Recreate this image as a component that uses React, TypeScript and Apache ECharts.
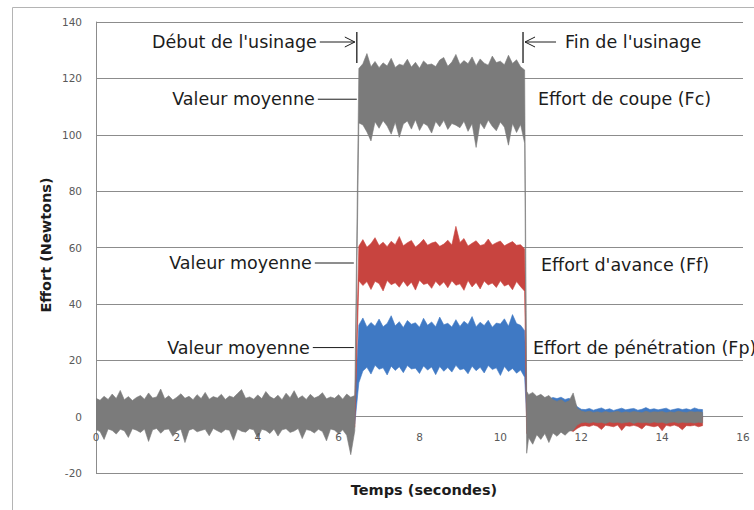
import React, { useEffect, useRef } from "react";
import * as echarts from "echarts";

// ---- time grids (seconds) ----
const tPre = [
  0, 0.1, 0.2, 0.3, 0.4, 0.5, 0.6, 0.7, 0.8, 0.9,
  1, 1.1, 1.2, 1.3, 1.4, 1.5, 1.6, 1.7, 1.8, 1.9,
  2, 2.1, 2.2, 2.3, 2.4, 2.5, 2.6, 2.7, 2.8, 2.9,
  3, 3.1, 3.2, 3.3, 3.4, 3.5, 3.6, 3.7, 3.8, 3.9,
  4, 4.1, 4.2, 4.3, 4.4, 4.5, 4.6, 4.7, 4.8, 4.9,
  5, 5.1, 5.2, 5.3, 5.4, 5.5, 5.6, 5.7, 5.8, 5.9,
  6, 6.1, 6.2, 6.3, 6.4,
];
const tPreCoarse = [0, 0.8, 1.6, 2.4, 3.2, 4.0, 4.8, 5.6, 6.4];
const tCut = [
  6.5, 6.6, 6.7, 6.8, 6.9,
  7, 7.1, 7.2, 7.3, 7.4, 7.5, 7.6, 7.7, 7.8, 7.9,
  8, 8.1, 8.2, 8.3, 8.4, 8.5, 8.6, 8.7, 8.8, 8.9,
  9, 9.1, 9.2, 9.3, 9.4, 9.5, 9.6, 9.7, 9.8, 9.9,
  10, 10.1, 10.2, 10.3, 10.4, 10.5, 10.6,
];
const tPost = [
  10.65, 10.7, 10.8, 10.9,
  11, 11.1, 11.2, 11.3, 11.4, 11.5, 11.6, 11.7, 11.8, 11.9,
  12, 12.1, 12.2, 12.3, 12.4, 12.5, 12.6, 12.7, 12.8, 12.9,
  13, 13.1, 13.2, 13.3, 13.4, 13.5, 13.6, 13.7, 13.8, 13.9,
  14, 14.1, 14.2, 14.3, 14.4, 14.5, 14.6, 14.7, 14.8, 14.9,
  15,
];

// ---- Effort de coupe (Fc), gray: envelope (low / high) of the noisy signal ----
const fcPreHigh = [
  6.5, 5.8, 7.2, 6.1, 8.0, 6.4, 9.3, 6.0, 7.1, 5.7,
  6.8, 7.5, 6.2, 8.4, 6.6, 7.0, 9.8, 6.3, 7.4, 5.9,
  6.9, 8.1, 6.5, 7.2, 6.0, 7.8, 6.4, 8.6, 6.2, 7.1,
  6.6, 7.9, 6.1, 7.3, 6.8, 8.2, 9.6, 6.5, 7.0, 6.2,
  7.7, 6.4, 8.9, 7.1, 6.3, 7.6, 6.0, 8.3, 6.7, 9.2,
  6.4, 7.4, 6.1, 7.9, 6.6, 7.2, 8.5, 6.3, 7.0, 6.5,
  7.8, 6.2, 8.0, 6.9, 7.5,
];
const fcPreLow = [
  -4.6, -5.3, -8.1, -4.4, -4.9, -6.2, -4.5, -5.0, -7.4, -4.3,
  -4.8, -5.6, -4.4, -8.8, -4.7, -4.2, -5.9, -4.6, -4.4, -7.0,
  -5.1, -4.5, -9.2, -4.8, -4.3, -5.4, -4.9, -4.5, -6.8, -4.2,
  -5.0, -5.7, -4.6, -4.8, -8.4, -4.4, -5.2, -5.5, -4.3, -4.7,
  -7.6, -4.5, -4.9, -6.0, -4.4, -6.9, -4.7, -4.3, -5.6, -5.1,
  -4.2, -7.8, -4.6, -4.9, -5.8, -4.5, -5.3, -8.6, -4.4, -4.8,
  -6.1, -4.7, -6.6, -13.5, -5.0,
];
const fcCutHigh = [
  123.5, 125.2, 128.8, 124.1, 126.0, 123.8, 125.5, 124.4, 127.1, 123.9,
  125.0, 124.6, 126.8, 124.0, 125.7, 123.6, 126.2, 124.8, 125.1, 124.2,
  126.5, 127.4, 124.3, 125.8, 128.5, 124.9, 126.3, 125.2, 127.6, 124.5,
  126.9, 125.4, 124.7, 127.9, 125.6, 126.1, 124.8, 128.2, 125.3, 126.6,
  124.1, 123.0,
];
const fcCutLow = [
  104.2, 103.5, 101.0, 97.8, 104.6, 102.3, 105.0, 103.1, 100.2, 104.4,
  99.1, 103.8, 104.9, 102.0, 105.3, 101.5, 104.1, 103.2, 100.6, 104.7,
  102.8, 105.1, 101.9, 104.0, 103.4, 102.5, 104.8, 101.2, 103.9, 95.5,
  104.3, 102.1, 105.2, 103.0, 101.4, 104.5, 102.7, 96.3, 104.0, 100.8,
  103.6, 97.0,
];
const fcPostHigh = [
  9.0, 7.8, 8.6, 7.2, 7.9, 6.8, 7.5, 6.0, 5.4, 6.1, 5.0, 5.6, 8.4, 3.0, 2.0,
  1.6, 1.9, 1.5, 1.7, 1.4, 1.8, 1.5, 1.6, 1.9, 1.4,
  1.7, 1.5, 1.8, 1.6, 1.4, 1.9, 1.5, 1.7, 1.6, 1.8,
  1.4, 1.7, 1.5, 1.9, 1.6, 1.5, 1.8, 1.6, 1.7, 1.5,
];
const fcPostLow = [
  -13.0, -7.5, -9.8, -6.4, -8.1, -6.0, -9.2, -5.8, -7.0, -5.5, -6.6, -5.2, -4.8, -3.0, -2.2,
  -2.0, -2.3, -1.9, -2.2, -2.1, -2.4, -1.9, -2.2, -2.0, -2.3,
  -2.1, -1.9, -2.4, -2.0, -2.2, -2.1, -2.3, -1.9, -2.2, -2.0,
  -2.4, -2.1, -1.9, -2.3, -2.0, -2.2, -2.1, -2.3, -2.0, -2.2,
];

// ---- Effort d'avance (Ff), red ----
const ffPreHigh = [1.8, 2.2, 1.9, 2.4, 2.0, 2.3, 1.7, 2.1, 2.0];
const ffPreLow = [-3.6, -4.0, -3.8, -4.1, -3.7, -4.0, -3.9, -4.1, -3.8];
const ffCutHigh = [
  60.5, 62.8, 60.1, 61.4, 63.5, 60.7, 61.9, 60.3, 62.2, 61.0,
  63.9, 60.6, 61.7, 62.5, 60.2, 61.3, 62.9, 60.8, 61.6, 62.0,
  60.4, 61.2, 62.6, 60.9, 67.5, 61.8, 63.2, 60.5, 61.5, 62.4,
  60.7, 61.1, 63.0, 60.9, 61.7, 62.3, 60.6, 61.4, 62.1, 60.8,
  61.0, 59.5,
];
const ffCutLow = [
  48.2, 46.5, 47.9, 45.1, 48.0, 47.2, 44.6, 48.3, 46.8, 47.5,
  45.9, 48.1, 46.2, 47.7, 44.9, 48.4, 46.9, 47.3, 45.5, 48.0,
  46.4, 47.8, 45.7, 48.2, 46.6, 47.1, 44.8, 48.3, 46.0, 47.6,
  45.3, 48.1, 46.7, 47.4, 45.8, 48.2, 46.3, 47.0, 45.0, 47.9,
  46.1, 44.5,
];
const ffPostHigh = [
  2.0, 0.8, 1.2, 0.6, 1.0, 0.7, 1.1, 0.5, 0.9, 0.6, 1.0, 0.4, 0.8, 0.3, 0.2,
  0.1, -0.2, 0.3, 0.0, -0.1, 0.2, -0.3, 0.1, 0.0, 0.3,
  -0.2, 0.1, 0.2, -0.1, 0.0, 0.3, -0.2, 0.1, -0.1, 0.2,
  0.0, -0.3, 0.1, 0.2, -0.1, 0.0, 0.3, -0.2, 0.1, 0.0,
];
const ffPostLow = [
  -6.0, -5.2, -6.5, -4.9, -5.8, -5.1, -6.2, -4.8, -5.5, -5.0, -5.9, -4.7, -5.3, -4.2, -3.4,
  -3.2, -3.5, -3.0, -3.4, -4.6, -3.1, -3.3, -3.6, -3.0, -4.9,
  -3.2, -3.4, -3.1, -3.5, -4.4, -3.0, -3.3, -3.6, -3.2, -5.0,
  -3.1, -3.4, -3.0, -3.5, -4.7, -3.2, -3.3, -3.1, -3.6, -3.2,
];

// ---- Effort de pénétration (Fp), blue ----
const fpPreHigh = [4.2, 4.8, 4.5, 5.0, 4.6, 4.9, 4.4, 4.7, 5.0];
const fpPreLow = [-2.4, -2.9, -2.6, -3.0, -2.5, -2.8, -2.7, -2.9, -2.6];
const fpCutHigh = [
  32.5, 35.0, 31.8, 33.4, 32.1, 34.6, 31.9, 33.0, 35.8, 32.2,
  33.7, 31.6, 34.1, 32.8, 33.3, 31.7, 34.9, 32.4, 33.6, 31.9,
  35.3, 32.6, 33.1, 31.8, 34.4, 32.0, 33.8, 32.7, 35.5, 31.9,
  33.5, 32.3, 34.2, 31.7, 33.2, 32.9, 34.7, 32.1, 36.2, 33.0,
  32.4, 30.5,
];
const fpCutLow = [
  12.0, 16.2, 17.5, 15.1, 18.2, 16.8, 17.3, 14.8, 17.9, 16.4,
  17.7, 15.6, 18.1, 16.9, 17.2, 15.3, 18.0, 16.5, 17.6, 14.9,
  17.8, 16.1, 17.4, 15.8, 18.2, 16.6, 17.0, 15.2, 17.9, 16.3,
  17.5, 15.5, 18.1, 16.7, 17.3, 14.6, 17.8, 16.0, 17.1, 15.4,
  16.5, 14.0,
];
const fpPostHigh = [
  8.0, 6.5, 6.0, 6.3, 5.8, 6.6, 6.2, 6.8, 6.4, 6.9, 6.1, 6.5, 5.2, 3.5, 2.6,
  2.5, 2.9, 2.3, 2.7, 3.1, 2.4, 2.8, 2.2, 2.6, 3.0,
  2.4, 2.7, 2.9, 2.3, 2.6, 3.2, 2.5, 2.8, 2.4, 2.7,
  3.0, 2.3, 2.6, 2.9, 2.5, 2.8, 2.4, 3.1, 2.6, 2.5,
];
const fpPostLow = [
  0.0, -1.0, -0.6, -1.2, -0.8, -1.1, -0.5, -0.9, -1.3, -0.7, -1.0, -0.6, -0.8, -0.5, -0.4,
  -0.6, -0.3, -0.8, -0.5, -0.7, -0.4, -0.9, -0.6, -0.3, -0.7,
  -0.5, -0.8, -0.4, -0.6, -0.9, -0.5, -0.3, -0.7, -0.6, -0.4,
  -0.8, -0.5, -0.7, -0.3, -0.6, -0.9, -0.4, -0.5, -0.7, -0.6,
];

// ---- annotations ----
const startTime = 6.45; // Début de l'usinage
const endTime = 10.56; // Fin de l'usinage
const meanFc = 112.6;
const meanFf = 54.5;
const meanFp = 24.5;
const labelFc = "Effort de coupe (Fc)";
const labelFf = "Effort d'avance (Ff)";
const labelFp = "Effort de pénétration (Fp)";
const meanLabel = "Valeur moyenne";
const startLabel = "Début de l'usinage";
const endLabel = "Fin de l'usinage";
const yTitle = "Effort (Newtons)";
const xTitle = "Temps (secondes)";

const GRAY = "#7b7b7b";
const RED = "#c8443f";
const BLUE = "#3f79c4";
const GRID = "#8c8c8c";
const FONT = "DejaVu Sans";

type Phase = [number[], number[], number[]];
function envelope(phases: Phase[]): number[][] {
  const pts: number[][] = [];
  phases.forEach(([ts, lo, hi]) => {
    ts.forEach((t, i) => pts.push([t, lo[i], hi[i]]));
  });
  return pts;
}

function band(name: string, color: string, pts: number[][], z: number) {
  return {
    type: "custom",
    name,
    z,
    clip: true,
    data: pts,
    encode: { x: 0, y: [1, 2] },
    renderItem: (params: any, api: any) => {
      if (params.dataIndex !== 0) return null;
      const upper = pts.map((p) => api.coord([p[0], p[2]]));
      const lower = pts.map((p) => api.coord([p[0], p[1]])).reverse();
      return {
        type: "polygon",
        shape: { points: upper.concat(lower) },
        style: { fill: color, stroke: color, lineWidth: 0.6 },
      };
    },
  };
}

export default function App() {
  const ref = useRef<HTMLDivElement>(null);
  useEffect(() => {
    const chart = echarts.init(ref.current!, null, { renderer: "svg" });
    const fc = envelope([
      [tPre, fcPreLow, fcPreHigh],
      [tCut, fcCutLow, fcCutHigh],
      [tPost, fcPostLow, fcPostHigh],
    ]);
    const ff = envelope([
      [tPreCoarse, ffPreLow, ffPreHigh],
      [tCut, ffCutLow, ffCutHigh],
      [tPost, ffPostLow, ffPostHigh],
    ]);
    const fp = envelope([
      [tPreCoarse, fpPreLow, fpPreHigh],
      [tCut, fpCutLow, fpCutHigh],
      [tPost, fpPostLow, fpPostHigh],
    ]);

    chart.setOption({
      animation: false,
      backgroundColor: "#ffffff",
      grid: { left: 96, right: 11, top: 22, bottom: 37 },
      xAxis: {
        type: "value",
        min: 0,
        max: 16,
        interval: 2,
        z: 10,
        zlevel: 1,
        axisLine: { show: false },
        axisTick: { show: false },
        splitLine: { show: false },
        axisLabel: { color: "#595959", fontSize: 10.5, fontFamily: FONT, margin: 15 },
      },
      yAxis: {
        type: "value",
        min: -20,
        max: 140,
        interval: 20,
        axisLine: { show: true, lineStyle: { color: GRID, width: 1 } },
        axisTick: { show: false },
        splitLine: { show: true, lineStyle: { color: GRID, width: 1 } },
        axisLabel: { color: "#595959", fontSize: 10.5, fontFamily: FONT, margin: 14 },
      },
      series: [band("Fp", BLUE, fp, 2), band("Ff", RED, ff, 3), band("Fc", GRAY, fc, 4)],
    });

    const px = (t: number, v: number) =>
      chart.convertToPixel({ gridIndex: 0 }, [t, v]) as unknown as number[];

    // Excel-style: the time axis crosses the force axis at 0
    const yZero = px(0, 0)[1];
    const yBottom = px(0, -20)[1];
    chart.setOption({ xAxis: { offset: -(yBottom - yZero) } });

    const sx = px(startTime, 0)[0];
    const ex = px(endTime, 0)[0];
    const yFc = px(0, meanFc)[1];
    const yFf = px(0, meanFf)[1];
    const yFp = px(0, meanFp)[1];
    const INK = "#1c1c1c";
    const FS = 17.5;
    const txt = (text: string, x: number, y: number, align: string) => ({
      type: "text",
      x,
      y,
      z: 20,
      style: {
        text,
        fill: INK,
        fontSize: FS,
        fontFamily: FONT,
        align,
        verticalAlign: "middle",
      },
    });
    const ln = (x1: number, y1: number, x2: number, y2: number, w = 1) => ({
      type: "line",
      z: 20,
      shape: { x1, y1, x2, y2 },
      style: { stroke: INK, lineWidth: w },
    });
    const pl = (points: number[][]) => ({
      type: "polyline",
      z: 20,
      shape: { points },
      style: { stroke: INK, lineWidth: 1, fill: "none" },
    });
    const ty = 42;

    chart.setOption({
      graphic: [
        {
          type: "rect",
          z: 0,
          silent: true,
          shape: { x: 12.5, y: 7.5, width: 800, height: 560 },
          style: { fill: "none", stroke: "#b4b4b4", lineWidth: 1 },
        },
        // start marker
        txt(startLabel, sx - 40, ty, "right"),
        ln(sx - 37, ty, sx - 2, ty),
        pl([[sx - 12, ty - 5], [sx - 2, ty], [sx - 12, ty + 5]]),
        ln(sx, 32, sx, 63, 1.3),
        // end marker
        ln(ex, 32, ex, 63, 1.3),
        ln(ex + 2, ty, ex + 33, ty),
        pl([[ex + 12, ty - 5], [ex + 2, ty], [ex + 12, ty + 5]]),
        txt(endLabel, ex + 42, ty, "left"),
        // mean labels
        txt(meanLabel, sx - 42, yFc, "right"),
        ln(sx - 39, yFc, sx, yFc),
        txt(meanLabel, sx - 45, yFf, "right"),
        ln(sx - 42, yFf, sx - 3, yFf),
        txt(meanLabel, sx - 47, yFp, "right"),
        ln(sx - 44, yFp, sx - 3, yFp),
        // series labels
        txt(labelFc, ex + 15, yFc, "left"),
        txt(labelFf, ex + 18, yFf + 2, "left"),
        txt(labelFp, ex + 10, yFp, "left"),
        // axis titles
        {
          type: "text",
          x: 46,
          y: 245,
          rotation: Math.PI / 2,
          z: 20,
          style: {
            text: yTitle,
            fill: INK,
            fontSize: 14.5,
            fontWeight: "bold",
            fontFamily: FONT,
            align: "center",
            verticalAlign: "middle",
          },
        },
        {
          type: "text",
          x: 424,
          y: 490,
          z: 20,
          style: {
            text: xTitle,
            fill: INK,
            fontSize: 14.5,
            fontWeight: "bold",
            fontFamily: FONT,
            align: "center",
            verticalAlign: "middle",
          },
        },
      ],
    });

    return () => chart.dispose();
  }, []);
  return (
    <div
      ref={ref}
      style={{ position: "fixed", left: 0, top: 0, width: 754, height: 510, background: "#fff" }}
    />
  );
}
